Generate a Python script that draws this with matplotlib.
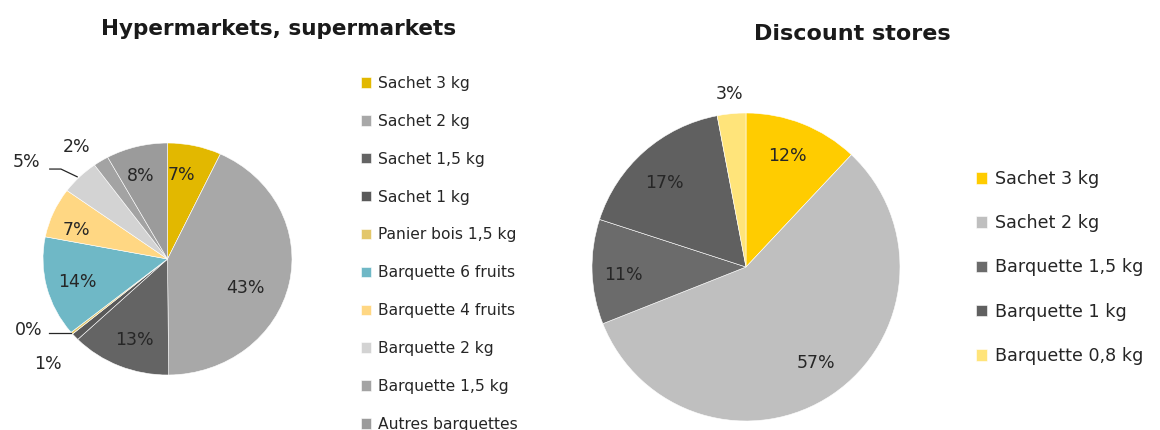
import matplotlib.pyplot as plt
import numpy as np

plt.rcParams["font.family"] = ["DejaVu Sans"]

# Hypermarkets, supermarkets (share of volume, %)
hyper_labels = [
    "Sachet 3 kg", "Sachet 2 kg", "Sachet 1,5 kg", "Sachet 1 kg",
    "Panier bois 1,5 kg", "Barquette 6 fruits", "Barquette 4 fruits",
    "Barquette 2 kg", "Barquette 1,5 kg", "Autres barquettes",
]
hyper_values = [7, 43, 13, 1, 0.3, 14, 7, 5, 2, 8]
hyper_colors = [
    "#E2B800", "#A8A8A8", "#646464", "#595959", "#E3C76A",
    "#6FB8C6", "#FFD783", "#D3D3D3", "#A3A3A3", "#9B9B9B",
]

# Discount stores (share of volume, %)
discount_labels = [
    "Sachet 3 kg", "Sachet 2 kg", "Barquette 1,5 kg", "Barquette 1 kg",
    "Barquette 0,8 kg",
]
discount_values = [12, 57, 11, 17, 3]
discount_colors = ["#FFCC00", "#BFBFBF", "#6B6B6B", "#606060", "#FFE47A"]

W, H = 1160, 430
TXT = "#262626"
fig = plt.figure(figsize=(W / 100, H / 100), dpi=100)


def px_axes(x0, y0, x1, y1):
    """Axes spanning a pixel box given from the top-left corner."""
    return fig.add_axes([x0 / W, 1 - y1 / H, (x1 - x0) / W, (y1 - y0) / H])


def draw_pie(ax, values, colors, label_pos, leaders, fontsize):
    wedges, _ = ax.pie(
        values, colors=colors, startangle=90, counterclock=False,
        wedgeprops=dict(edgecolor="white", linewidth=0.4),
    )
    ax.set_aspect("auto")
    ax.set_xlim(-1, 1)
    ax.set_ylim(-1, 1)
    ax.axis("off")
    for i, w in enumerate(wedges):
        mid = np.deg2rad((w.theta1 + w.theta2) / 2)
        r, dtheta = label_pos[i]
        ang = mid + np.deg2rad(dtheta)
        tx, ty = r * np.cos(ang), r * np.sin(ang)
        ax.text(tx, ty, f"{values[i]:.0f}%", ha="center", va="center",
                fontsize=fontsize, color=TXT, clip_on=False)
        if i in leaders:
            pts = leaders[i](np.cos(mid), np.sin(mid), tx, ty)
            ax.plot([p[0] for p in pts], [p[1] for p in pts],
                    color=TXT, lw=0.9, clip_on=False)
    return wedges


# (radius, angle nudge in degrees) for each percentage label
hyper_label_pos = [
    (0.73, 3.5), (0.67, -9.5), (0.75, 1.8), (1.32, 1.4), (1.275, -11),
    (0.75, 1), (0.775, 4.6), (1.41, 8.8), (1.21, 4.6), (0.75, 2.2),
]
hyper_leaders = {
    4: lambda ex, ey, tx, ty: [(ex - 0.01, ey), (tx + 0.17, ey)],
    7: lambda ex, ey, tx, ty: [(ex - 0.02, ey + 0.0), (tx + 0.28, ty - 0.06),
                               (tx + 0.19, ty - 0.06)],
}
ax_h = px_axes(43, 143, 292, 375)
hyper_wedges = draw_pie(ax_h, hyper_values, hyper_colors,
                        hyper_label_pos, hyper_leaders, 12.5)

discount_label_pos = [(0.77, 1), (0.77, 2), (0.80, 2), (0.76, 3), (1.13, 0)]
ax_d = px_axes(592, 113, 900, 421)
discount_wedges = draw_pie(ax_d, discount_values, discount_colors,
                           discount_label_pos, {}, 12.5)

fig.text(279 / W, 1 - 29 / H, "Hypermarkets, supermarkets", ha="center",
         va="center", fontsize=15.5, fontweight="bold", color="#1a1a1a")
fig.text(852 / W, 1 - 34 / H, "Discount stores", ha="center", va="center",
         fontsize=16, fontweight="bold", color="#1a1a1a")

leg1 = fig.legend(hyper_wedges, hyper_labels, loc="upper left",
                  bbox_to_anchor=(361 / W, 1 - 76 / H), frameon=False,
                  fontsize=11.2, handlelength=0.65, handleheight=0.65,
                  handletextpad=0.45, labelspacing=1.47, borderpad=0,
                  borderaxespad=0)
leg2 = fig.legend(discount_wedges, discount_labels, loc="upper left",
                  bbox_to_anchor=(976 / W, 1 - 170 / H), frameon=False,
                  fontsize=12.6, handlelength=0.65, handleheight=0.65,
                  handletextpad=0.45, labelspacing=1.5, borderpad=0,
                  borderaxespad=0)
for leg in (leg1, leg2):
    for t in leg.get_texts():
        t.set_color(TXT)

fig.savefig("out.png", dpi=100)
